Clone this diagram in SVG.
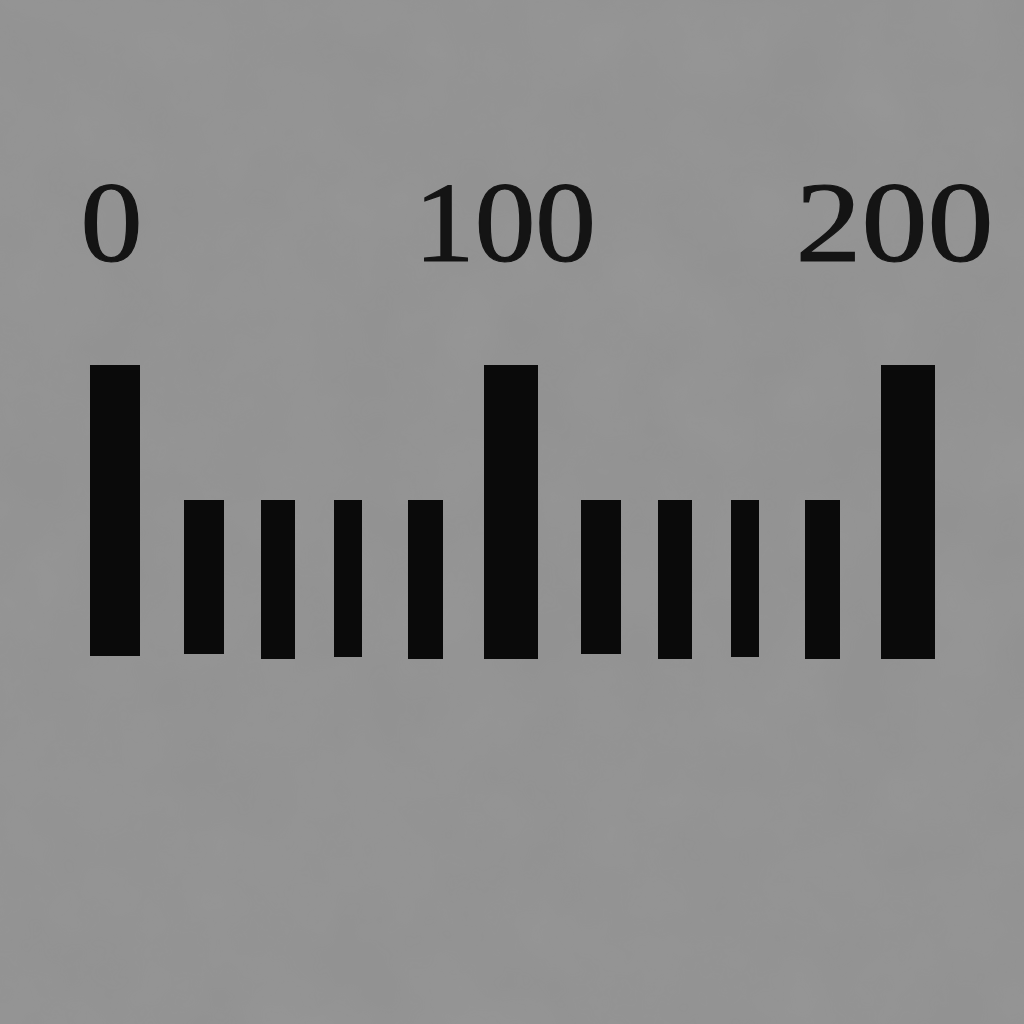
<svg xmlns="http://www.w3.org/2000/svg" width="1024" height="1024" viewBox="0 0 1024 1024">
  <defs>
    <filter id="grain" x="0" y="0" width="100%" height="100%">
      <feTurbulence type="fractalNoise" baseFrequency="0.012" numOctaves="4" seed="7" result="n"/>
      <feColorMatrix in="n" type="matrix" values="0 0 0 0 0.5  0 0 0 0 0.5  0 0 0 0 0.5  0.35 0.35 0 0 -0.2"/>
    </filter>
    <style>
      .bar { fill: #0a0a0a; }
      .lbl { font-family: "Liberation Serif", "DejaVu Serif", serif; font-size: 114px; fill: #141414; stroke: #141414; stroke-width: 1.2; text-anchor: middle; }
    </style>
  </defs>
  <rect id="background" width="1024" height="1024" fill="#929292"/>
  <rect width="1024" height="1024" filter="url(#grain)" opacity="0.25"/>
  <g id="labels">
    <text id="label-0" class="lbl" x="111.5" y="261" textLength="62" lengthAdjust="spacingAndGlyphs">0</text>
    <text id="label-100" class="lbl" x="505" y="261" textLength="182" lengthAdjust="spacingAndGlyphs">100</text>
    <text id="label-200" class="lbl" x="894.5" y="261" textLength="198" lengthAdjust="spacingAndGlyphs">200</text>
  </g>
  <g id="ticks">
    <rect id="tick-0" class="bar" x="90" y="365" width="50" height="291"/>
    <rect id="tick-1" class="bar" x="184" y="500" width="40" height="154"/>
    <rect id="tick-2" class="bar" x="261" y="500" width="34" height="159"/>
    <rect id="tick-3" class="bar" x="334" y="500" width="28" height="157"/>
    <rect id="tick-4" class="bar" x="408" y="500" width="35" height="159"/>
    <rect id="tick-100" class="bar" x="484" y="365" width="54" height="294"/>
    <rect id="tick-6" class="bar" x="581" y="500" width="40" height="154"/>
    <rect id="tick-7" class="bar" x="658" y="500" width="34" height="159"/>
    <rect id="tick-8" class="bar" x="731" y="500" width="28" height="157"/>
    <rect id="tick-9" class="bar" x="805" y="500" width="35" height="159"/>
    <rect id="tick-200" class="bar" x="881" y="365" width="54" height="294"/>
  </g>
</svg>
